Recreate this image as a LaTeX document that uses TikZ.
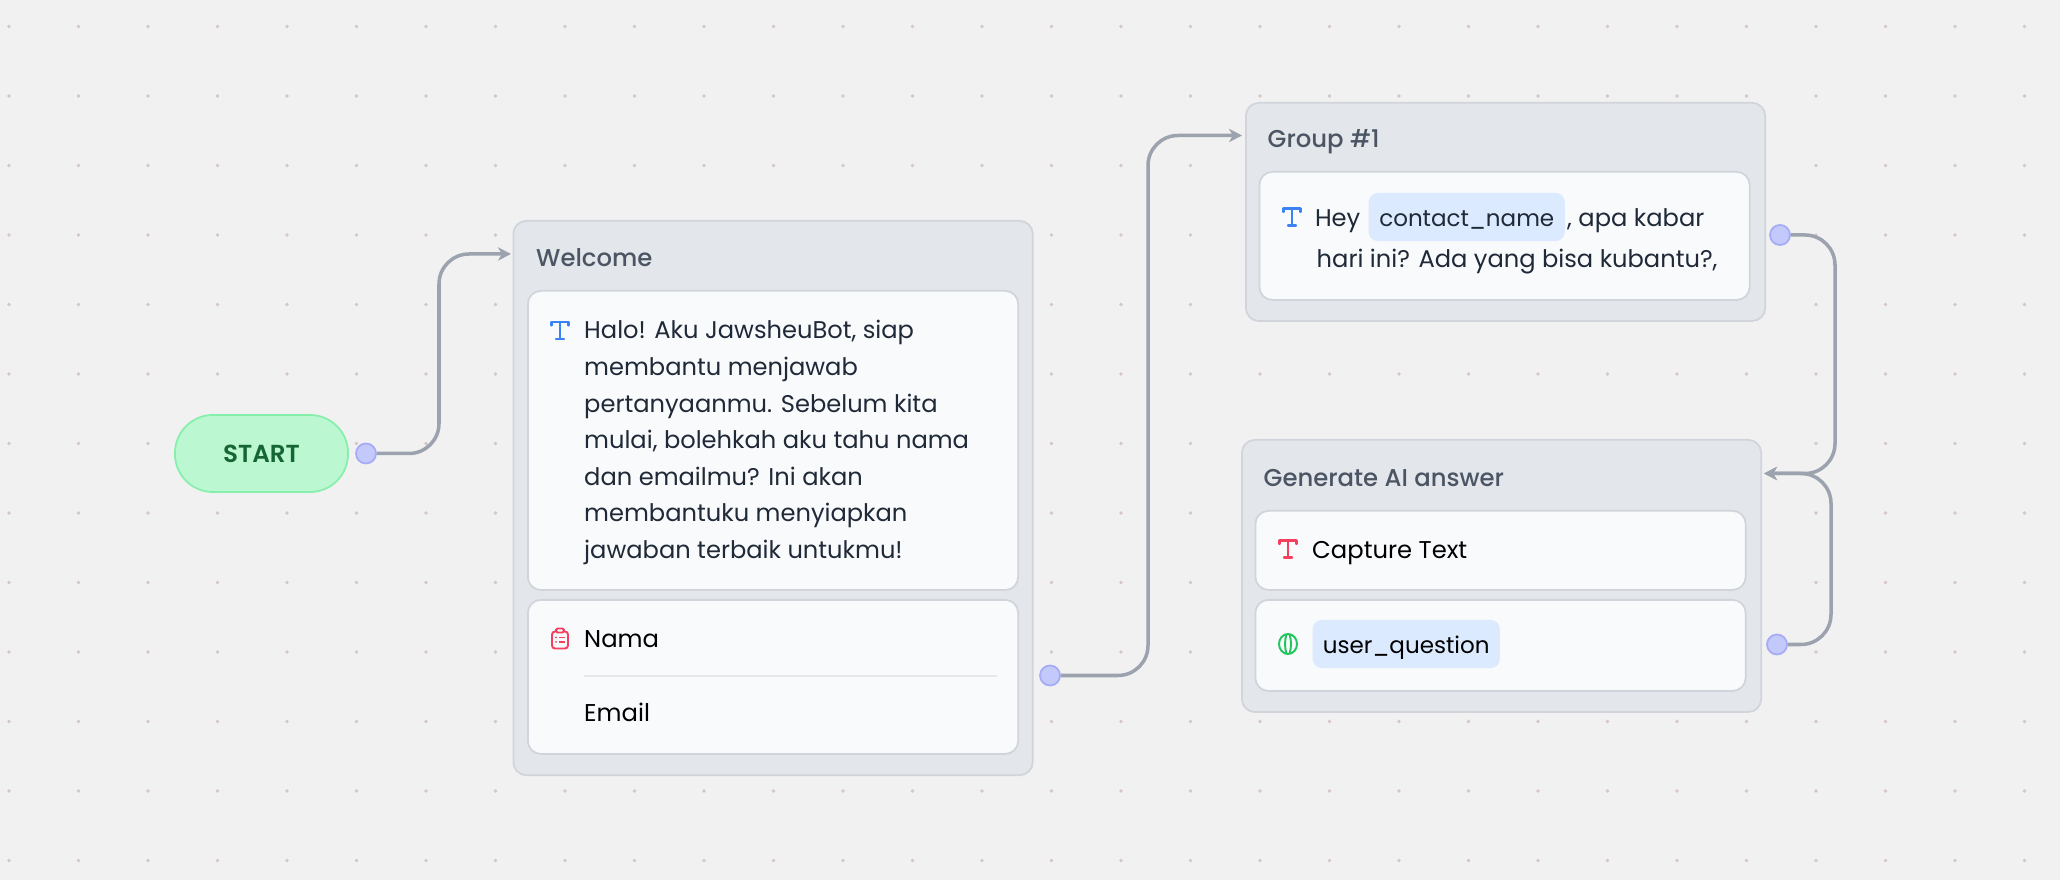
\documentclass[tikz,border=0pt]{standalone}
\usepackage{fontspec}
\setmainfont{Poppins}
\newfontfamily\mediumfont{Poppins Medium}
\newfontfamily\semiboldfont{Poppins SemiBold}
\usetikzlibrary{arrows.meta,positioning}

\definecolor{pagebg}{HTML}{F1F1F1}
\definecolor{dotcol}{HTML}{D6C6C6}
\definecolor{groupfill}{HTML}{E3E6EA}
\definecolor{boxline}{HTML}{D1D5DB}
\definecolor{dividerline}{HTML}{E5E7EB}
\definecolor{cardfill}{HTML}{F9FAFC}
\definecolor{startfill}{HTML}{BBF7D0}
\definecolor{startline}{HTML}{86EFAC}
\definecolor{startink}{HTML}{166534}
\definecolor{portfill}{HTML}{C4C9FC}
\definecolor{portline}{HTML}{A5ABF5}
\definecolor{edgecol}{HTML}{9CA3AF}
\definecolor{chipfill}{HTML}{DBEAFE}
\definecolor{titleink}{HTML}{4B5563}
\definecolor{bodyink}{HTML}{1F2937}
\definecolor{iconblue}{HTML}{3B82F6}
\definecolor{iconrose}{HTML}{F43F5E}
\definecolor{icongreen}{HTML}{22C55E}

\tikzset{
  groupbox/.style={draw=boxline,fill=groupfill,line width=0.5pt,rounded corners=0.13cm,anchor=north west,inner sep=0pt,minimum width=5.19cm},
  cardbox/.style={draw=boxline,fill=cardfill,line width=0.5pt,rounded corners=0.13cm,anchor=north west,inner sep=0pt,minimum width=4.9cm},
  grouptitle/.style={anchor=base west,inner sep=0pt,text=titleink,font=\mediumfont\fontsize{6.92}{8}\selectfont},
  bodytext/.style={anchor=base west,inner sep=0pt,text=bodyink,align=left,font=\fontsize{6.87}{10.41}\selectfont},
  plaintext/.style={anchor=base west,inner sep=0pt,text=black,font=\fontsize{6.9}{8}\selectfont},
  varchip/.style={fill=chipfill,rounded corners=0.09cm,anchor=west,inner sep=0pt,minimum height=0.48cm,minimum width=1.96cm,text height=0.24cm,text depth=0.05cm,font=\fontsize{6.55}{8}\selectfont},
  port/.style={circle,draw=portline,fill=portfill,line width=0.5pt,inner sep=0pt,minimum size=0.2cm},
  edge/.style={draw=edgecol,line width=1pt,rounded corners=0.3cm,-{Stealth[length=3.7pt,width=3.8pt,inset=1.1pt]}},
  ticon/.pic={
    \draw[line width=0.65pt,line cap=round,line join=round] (-8.5,-5) -- (-8.5,-8.5) -- (8.5,-8.5) -- (8.5,-5);
    \draw[line width=0.65pt,line cap=round] (0,-8.5) -- (0,8.5) (-4,8.5) -- (4,8.5);
  },
  clipicon/.pic={
    \draw[line width=0.55pt,rounded corners=0.03cm] (-8,-7) rectangle (8,10);
    \draw[line width=0.55pt,fill=cardfill,rounded corners=0.015cm] (-4,-10) rectangle (4,-6);
    \draw[line width=0.55pt] (-1,-1) -- (4.5,-1) (-1,3.5) -- (4.5,3.5);
    \fill (-4,-1) circle[radius=1] (-4,3.5) circle[radius=1];
  },
  brainicon/.pic={
    \draw[line width=0.55pt] (0,0) ellipse[x radius=9,y radius=10];
    \draw[line width=0.55pt] (-1.5,-10) .. controls (-3.5,-3) and (-3.5,3) .. (-1.5,10);
    \draw[line width=0.55pt] (1.5,-10) .. controls (3.5,-3) and (3.5,3) .. (1.5,10);
  }
}

\begin{document}
\begin{tikzpicture}[x=0.01cm,y=-0.01cm]
  % Fond
  \fill[pagebg] (0,0) rectangle (2060,880);
  % Grille de points
  \foreach \ligne in {0,...,12}
    \foreach \col in {0,...,29}
      \fill[dotcol] ({9+69.5*\col},{26.5+69.5*\ligne}) circle[radius=1.9];

  % Depart
  \node[draw=startline,fill=startfill,line width=0.5pt,rounded corners=0.38cm,minimum width=1.73cm,minimum height=0.77cm,inner sep=0pt,text=startink,font=\semiboldfont\fontsize{7}{8}\selectfont] (start) at (261.5,453.5) {START};
  \node[port] (portStart) at (366,453.5) {};

  % Groupe Welcome
  \node[groupbox,minimum height=5.54cm] (welcome) at (512.5,220) {};
  \node[grouptitle] (titleWelcome) at (535.5,267) {Welcome};
  \node[cardbox,minimum height=2.99cm] (cardHalo) at (527,290) {};
  \pic[color=iconblue] at (560,330.5) {ticon};
  \node[bodytext] (textHalo) at (583.5,558.5) {Halo! Aku JawsheuBot, siap\\membantu menjawab\\pertanyaanmu. Sebelum kita\\mulai, bolehkah aku tahu nama\\dan emailmu? Ini akan\\membantuku menyiapkan\\jawaban terbaik untukmu!};
  \node[cardbox,minimum height=1.54cm] (cardForm) at (527,599) {};
  \pic[color=iconrose] at (560,638.5) {clipicon};
  \node[plaintext] (textNama) at (583.5,647.5) {Nama};
  \coordinate (dividerEnd) at (997,676);
  \draw[dividerline,line width=0.5pt] (584,676) -- (dividerEnd);
  \node[plaintext] (textEmail) at (583.5,722) {Email};
  \node[port] (portWelcome) at (1050,675.5) {};

  % Groupe #1
  \node[groupbox,minimum height=2.18cm] (groupOne) at (1245,102) {};
  \node[grouptitle] (titleGroup) at (1267,148) {Group \#1};
  \node[cardbox,minimum height=1.28cm] (cardHey) at (1258.5,171) {};
  \pic[color=iconblue] at (1292,217) {ticon};
  \node[varchip,text=bodyink] (chipContact) at (1368,217) {contact\_name};
  \node[bodytext,anchor=base east] (textHey) at ([xshift=-0.07cm]chipContact.base west) {Hey};
  \node[bodytext] (textKabar) at ([xshift=0.01cm]chipContact.base east) {, apa kabar};
  \node[bodytext] (textHari) at (1316,268) {hari ini? Ada yang bisa kubantu?,};
  \node[port] (portGroup) at (1780,235) {};

  % Groupe Generate AI answer
  \node[groupbox,minimum height=2.72cm] (answer) at (1241,439) {};
  \node[grouptitle] (titleAnswer) at (1263,486.5) {Generate AI answer};
  \node[cardbox,minimum height=0.79cm] (cardCapture) at (1254.5,510) {};
  \pic[color=iconrose] at (1288,549) {ticon};
  \node[plaintext] (textCapture) at (1311.5,558.5) {Capture Text};
  \node[cardbox,minimum height=0.91cm] (cardUser) at (1254.5,599) {};
  \pic[color=icongreen] at (1288,644) {brainicon};
  \node[varchip,text=black,minimum width=1.87cm] (chipUser) at (1312,644) {user\_question};
  \node[port] (portUser) at (1777,644.5) {};

  % Liaisons
  \coordinate (entryWelcome) at (511,254);
  \coordinate (bendWelcome) at (439,254);
  \coordinate (entryGroup) at (1242,135.5);
  \coordinate (bendGroup) at (1148,135.5);
  \coordinate (entryAnswer) at (1764,473.5);
  \coordinate (bendHey) at (1835,473.5);
  \coordinate (bendUser) at (1831,473.5);
  \draw[edge] (portStart.east) -| (bendWelcome) -- (entryWelcome);
  \draw[edge] (portWelcome.east) -| (bendGroup) -- (entryGroup);
  \draw[edge] (portGroup.east) -| (bendHey) -- (entryAnswer);
  \draw[edge] (portUser.east) -| (bendUser) -- (entryAnswer);
\end{tikzpicture}
\end{document}
